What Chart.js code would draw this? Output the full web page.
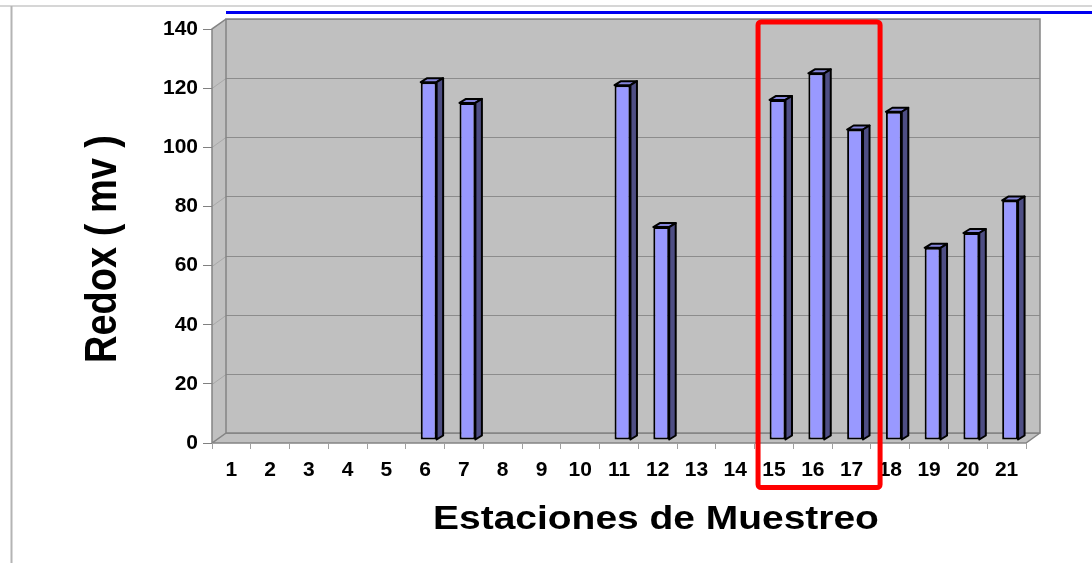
<!DOCTYPE html>
<html>
<head>
<meta charset="utf-8">
<script src="https://cdn.jsdelivr.net/npm/chart.js@4.4.1/dist/chart.umd.min.js"></script>
<style>
  html, body { margin: 0; padding: 0; background: #fff; }
  canvas { display: block; }
</style>
</head>
<body>
<canvas id="redoxChart" width="1092" height="563"></canvas>
<script>
// Data
const stations = ['1','2','3','4','5','6','7','8','9','10','11','12','13','14','15','16','17','18','19','20','21'];
const redox = [null, null, null, null, null, 121, 114, null, null, null, 120, 72, null, null, 115, 124, 105, 111, 65, 70, 81];
const yMin = 0, yMax = 140, yStep = 20;
const highlighted = ['15', '17'];   // first / last station inside the red box
const yTitle = 'Redox ( mv )';
const xTitle = 'Estaciones de Muestreo';

// 3D look
const DX = 14, DY = 10;        // wall depth
const BDX = 6.5, BDY = 4;      // bar depth
const FONT = '"Liberation Sans", Arial, sans-serif';

// back wall, left wall, floor and gridlines
const walls = {
  id: 'walls',
  beforeDraw(chart) {
    const { ctx, chartArea: a, scales: { y } } = chart;
    ctx.save();
    // page frame
    ctx.strokeStyle = '#c8c8c8'; ctx.lineWidth = 1.5;
    ctx.beginPath(); ctx.moveTo(0, 6); ctx.lineTo(chart.width, 6); ctx.stroke();
    ctx.strokeStyle = '#b4b4b4'; ctx.lineWidth = 2;
    ctx.beginPath(); ctx.moveTo(11.5, 6); ctx.lineTo(11.5, chart.height); ctx.stroke();

    ctx.fillStyle = '#c0c0c0';
    ctx.fillRect(a.left + DX, a.top - DY, a.width, a.height);
    // left wall
    ctx.beginPath();
    ctx.moveTo(a.left, a.top); ctx.lineTo(a.left + DX, a.top - DY);
    ctx.lineTo(a.left + DX, a.bottom - DY); ctx.lineTo(a.left, a.bottom);
    ctx.closePath(); ctx.fill();
    // floor
    ctx.beginPath();
    ctx.moveTo(a.left, a.bottom); ctx.lineTo(a.left + DX, a.bottom - DY);
    ctx.lineTo(a.right + DX, a.bottom - DY); ctx.lineTo(a.right, a.bottom);
    ctx.closePath(); ctx.fill();

    // gridlines
    ctx.lineWidth = 1;
    y.ticks.forEach(t => {
      const py = Math.round(y.getPixelForValue(t.value)) + 0.5;
      ctx.strokeStyle = '#8c8c8c';
      ctx.beginPath(); ctx.moveTo(a.left + DX, py - DY); ctx.lineTo(a.right + DX, py - DY); ctx.stroke();
      ctx.strokeStyle = '#a8a8a8';
      ctx.beginPath(); ctx.moveTo(a.left, py); ctx.lineTo(a.left + DX, py - DY); ctx.stroke();
    });

    // outlines
    ctx.strokeStyle = '#848484'; ctx.lineWidth = 1.5;
    ctx.strokeRect(a.left + DX, a.top - DY, a.width, a.height);
    ctx.beginPath();
    ctx.moveTo(a.left + DX, a.top - DY); ctx.lineTo(a.left, a.top);
    ctx.lineTo(a.left, a.bottom); ctx.lineTo(a.right, a.bottom);
    ctx.lineTo(a.right + DX, a.bottom - DY);
    ctx.moveTo(a.left, a.bottom); ctx.lineTo(a.left + DX, a.bottom - DY);
    ctx.stroke();
    ctx.restore();
  }
};

// top and side faces of the columns
const bars3d = {
  id: 'bars3d',
  beforeDatasetsDraw(chart) {
    chart.ctx.save();
    chart.ctx.translate(3.5, -3);
  },
  afterDatasetsDraw(chart) {
    const ctx = chart.ctx;
    chart.getDatasetMeta(0).data.forEach(bar => {
      const { x, y, base, width } = bar.getProps(['x', 'y', 'base', 'width'], true);
      if (isNaN(y) || y === base) return;
      const l = x - width / 2, r = x + width / 2;
      ctx.lineWidth = 2;
      ctx.strokeStyle = '#000';
      ctx.lineJoin = 'round';
      // top
      ctx.fillStyle = '#8585dc';
      ctx.beginPath();
      ctx.moveTo(l, y); ctx.lineTo(l + BDX, y - BDY); ctx.lineTo(r + BDX, y - BDY); ctx.lineTo(r, y);
      ctx.closePath(); ctx.fill(); ctx.stroke();
      // side
      ctx.fillStyle = '#4e4e84';
      ctx.beginPath();
      ctx.moveTo(r, y); ctx.lineTo(r + BDX, y - BDY); ctx.lineTo(r + BDX, base - BDY); ctx.lineTo(r, base);
      ctx.closePath(); ctx.fill(); ctx.stroke();
    });
    ctx.restore();
  }
};

// titles, red box, blue line
const extras = {
  id: 'extras',
  afterDraw(chart) {
    const { ctx, chartArea: a, scales: { x } } = chart;
    ctx.save();
    ctx.fillStyle = '#000';
    ctx.textAlign = 'center';
    ctx.textBaseline = 'middle';

    ctx.save();
    ctx.translate(104, 249);
    ctx.rotate(-Math.PI / 2);
    ctx.scale(1, 1.15);
    ctx.font = 'bold 38px ' + FONT;
    ctx.fillText(yTitle, 0, 0);
    ctx.restore();

    ctx.save();
    ctx.translate(656, 520);
    ctx.scale(1.18, 1);
    ctx.font = 'bold 33px ' + FONT;
    ctx.fillText(xTitle, 0, 0);
    ctx.restore();

    // blue line over the chart
    ctx.strokeStyle = '#0000f0'; ctx.lineWidth = 3;
    ctx.beginPath(); ctx.moveTo(a.left + DX, 12.5); ctx.lineTo(chart.width, 12.5); ctx.stroke();

    // red box round the highlighted stations
    const left = x.getPixelForValue(stations.indexOf(highlighted[0])) - 16;
    const right = x.getPixelForValue(stations.indexOf(highlighted[1])) + 28.5;
    const top = a.top - 7, bottom = a.bottom + 44.5;
    ctx.strokeStyle = '#ff0000'; ctx.lineWidth = 5; ctx.lineJoin = 'round';
    ctx.beginPath();
    ctx.roundRect(left, top, right - left, bottom - top, 3);
    ctx.stroke();
    ctx.restore();
  }
};

const ctx = document.getElementById('redoxChart').getContext('2d');
new Chart(ctx, {
  type: 'bar',
  data: {
    labels: stations,
    datasets: [{
      label: 'Redox',
      data: redox,
      backgroundColor: '#9999ff',
      borderColor: '#000',
      borderWidth: 2,
      borderSkipped: false,
      barPercentage: 0.41,
      categoryPercentage: 1
    }]
  },
  options: {
    responsive: false,
    devicePixelRatio: 1,
    animation: false,
    layout: { padding: { top: 29, right: 66, left: 0, bottom: 0 } },
    plugins: { legend: { display: false }, tooltip: { enabled: false } },
    scales: {
      x: {
        grid: { offset: true, drawOnChartArea: false, tickLength: 6, color: '#a0a0a0' },
        border: { display: false },
        ticks: { color: '#000', font: { family: FONT, size: 21, weight: 'bold' }, padding: 9, maxRotation: 0 },
        afterFit: s => { s.height = 120; }
      },
      y: {
        min: yMin, max: yMax,
        grid: { drawOnChartArea: false, tickLength: 9, color: '#808080' },
        border: { display: false },
        ticks: { stepSize: yStep, color: '#000', font: { family: FONT, size: 21, weight: 'bold' }, padding: 5 },
        afterFit: s => { s.width = 212; }
      }
    }
  },
  plugins: [walls, bars3d, extras]
});
</script>
</body>
</html>
